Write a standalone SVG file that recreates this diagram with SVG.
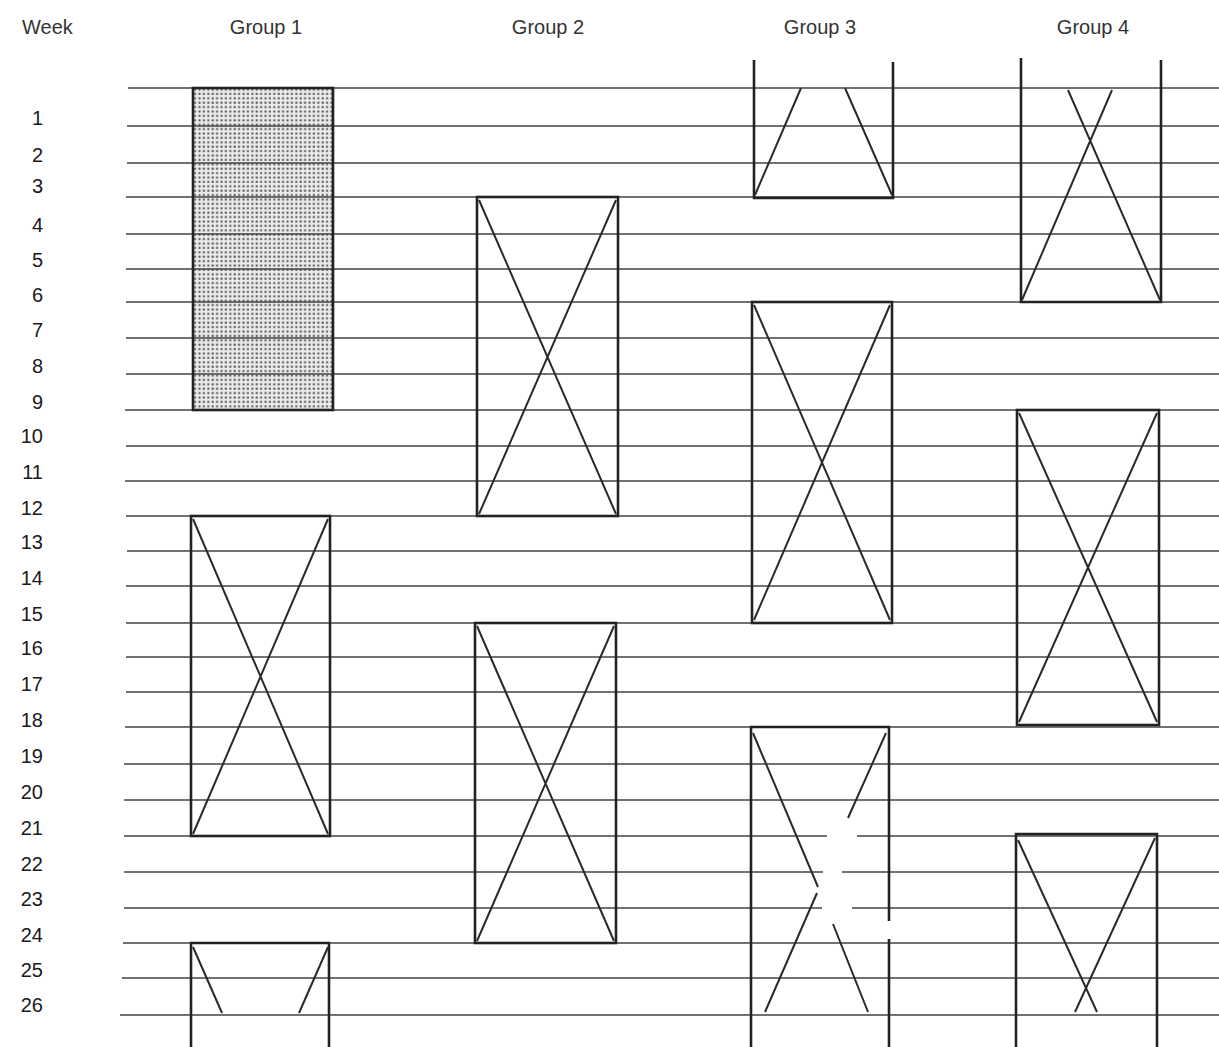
<svg xmlns="http://www.w3.org/2000/svg" width="1219" height="1047" viewBox="0 0 1219 1047">
<style>
.t{font-family:"Liberation Sans",Arial,sans-serif;font-size:20px;fill:#333}
.n{font-family:"Liberation Sans",Arial,sans-serif;font-size:20px;fill:#1a1a1a;text-anchor:end}
.h{stroke:#444;stroke-width:1.3;fill:none}
.b{stroke:#222;stroke-width:2.6;fill:none}
.d{stroke:#2a2a2a;stroke-width:2;fill:none}
</style>
<defs>
<pattern id="dots" width="4.4" height="4.4" patternUnits="userSpaceOnUse">
<rect width="4.4" height="4.4" fill="#eaeaea"/>
<rect x="0.5" y="0.5" width="2" height="2" fill="#555"/>
</pattern>
</defs>
<rect width="1219" height="1047" fill="#fff"/>
<g id="header">
<text class="t" x="22" y="34">Week</text>
<text class="t" x="266" y="34" text-anchor="middle">Group 1</text>
<text class="t" x="548" y="34" text-anchor="middle">Group 2</text>
<text class="t" x="820" y="34" text-anchor="middle">Group 3</text>
<text class="t" x="1093" y="34" text-anchor="middle">Group 4</text>
</g>
<g id="week-labels">
<text class="n" x="43" y="125">1</text>
<text class="n" x="43" y="162">2</text>
<text class="n" x="43" y="193">3</text>
<text class="n" x="43" y="232">4</text>
<text class="n" x="43" y="267">5</text>
<text class="n" x="43" y="302">6</text>
<text class="n" x="43" y="337">7</text>
<text class="n" x="43" y="373">8</text>
<text class="n" x="43" y="409">9</text>
<text class="n" x="43" y="443">10</text>
<text class="n" x="43" y="479">11</text>
<text class="n" x="43" y="515">12</text>
<text class="n" x="43" y="549">13</text>
<text class="n" x="43" y="585">14</text>
<text class="n" x="43" y="621">15</text>
<text class="n" x="43" y="655">16</text>
<text class="n" x="43" y="691">17</text>
<text class="n" x="43" y="727">18</text>
<text class="n" x="43" y="763">19</text>
<text class="n" x="43" y="799">20</text>
<text class="n" x="43" y="835">21</text>
<text class="n" x="43" y="871">22</text>
<text class="n" x="43" y="906">23</text>
<text class="n" x="43" y="942">24</text>
<text class="n" x="43" y="977">25</text>
<text class="n" x="43" y="1012">26</text>
</g>
<g id="g1-box1">
<rect x="193" y="88" width="140" height="322" fill="url(#dots)" stroke="none"/>
</g>
<g id="grid-lines">
<path class="h" d="M128 88H1219M127 126H1219M127 163H1219M126 197H1219M126 234H1219M126 269H1219M126 302H1219M126 338H1219M126 374H1219M125 410H1219M126 446H1219M125 481H1219M126 516H1219M127 551H1219M126 586H1219M126 623H1219M126 657H1219M126 692H1219M125 727H1219M124 764H1219M124 800H1219M124 836H827M857 836H1219M124 872H823M842 872H1219M124 908H822M852 908H1219M123 943H1219M122 978H1219M120 1015H1219"/>
</g>
<g id="g1-box1-border">
<rect class="b" x="193" y="88" width="140" height="322"/>
</g>
<g id="g1-box2">
<rect class="b" x="191" y="516" width="139" height="320"/>
<path class="d" d="M193 519L328 834M328 519L193 834"/>
</g>
<g id="g1-box3">
<path class="b" d="M191 1047V943H329V1047"/>
<path class="d" d="M193 947L222 1013M328 947L299 1013"/>
</g>
<g id="g2-box1">
<rect class="b" x="477" y="197" width="141" height="319"/>
<path class="d" d="M479 200L616 514M616 200L479 514"/>
</g>
<g id="g2-box2">
<rect class="b" x="475" y="623" width="141" height="320"/>
<path class="d" d="M477 626L614 941M614 626L477 941"/>
</g>
<g id="g3-box1">
<path class="b" d="M754 60V198H893V62"/>
<path class="d" d="M755 195L801 88M845 88L892 195"/>
</g>
<g id="g3-box2">
<rect class="b" x="752" y="302" width="140" height="321"/>
<path class="d" d="M754 305L890 620M890 305L754 620"/>
</g>
<g id="g3-box3">
<path class="b" d="M751 1047V727H889V921M889 939V1047"/>
<path class="d" d="M753 733L818 887M833 924L868 1012M886 733L848 818M817 893L765 1012"/>
</g>
<g id="g4-box1">
<path class="b" d="M1021 58V302H1161V60"/>
<path class="d" d="M1068 90L1160 300M1112 90L1022 300"/>
</g>
<g id="g4-box2">
<rect class="b" x="1017" y="410" width="142" height="315"/>
<path class="d" d="M1019 413L1157 722M1157 413L1019 722"/>
</g>
<g id="g4-box3">
<path class="b" d="M1016 1047V834H1157V1047"/>
<path class="d" d="M1018 840L1097 1012M1155 838L1075 1012"/>
</g>
</svg>
